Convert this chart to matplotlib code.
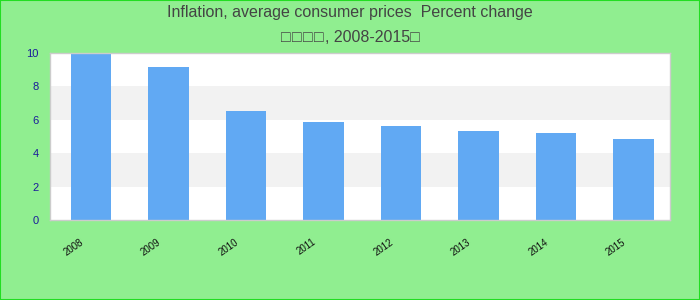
import matplotlib
matplotlib.use("Agg")
import matplotlib.pyplot as plt
import matplotlib.transforms as mtransforms
from matplotlib.patches import Rectangle

years = ["2008", "2009", "2010", "2011", "2012", "2013", "2014", "2015"]
inflation = [9.97, 9.16, 6.53, 5.87, 5.63, 5.33, 5.21, 4.85]
yticks = [0, 2, 4, 6, 8, 10]

plt.rcParams['font.family'] = ['Liberation Sans', 'DejaVu Sans']

fig = plt.figure(figsize=(7, 3), dpi=100, facecolor="#90ee90")
fig.patches.append(Rectangle((0, 0), 1, 1, transform=fig.transFigure,
                             fill=False, edgecolor="#22dd22", linewidth=1.5))
ax = fig.add_axes([50/700, 80/300, 620/700, 167/300])
ax.set_facecolor("white")

for i in range(0, 10, 2):
    if (i // 2) % 2 == 1:
        ax.axhspan(i, i + 2, color="#f2f2f2", zorder=0, linewidth=0)

x = list(range(len(years)))
ax.bar(x, inflation, width=0.52, color="#61a9f3", zorder=2)
ax.set_xlim(-0.53, len(years) - 0.53)
ax.set_ylim(0, 10)
ax.set_yticks(yticks)
ax.set_yticklabels([str(v) for v in yticks], color="#1a1a9a", fontsize=8)
ax.set_xticks(x)
ax.set_xticklabels(years, rotation=35, ha="right", fontsize=7, color="#111111")
ax.tick_params(axis="y", length=0, pad=8)
ax.tick_params(axis="x", length=0, pad=12)
shift = mtransforms.ScaledTranslation(-6/100, 0, fig.dpi_scale_trans)
for lbl in ax.get_xticklabels():
    lbl.set_transform(lbl.get_transform() + shift)
for s in ax.spines.values():
    s.set_color("#cccccc")
    s.set_linewidth(1)

fig.text(0.5, 1 - 12/300, "Inflation, average consumer prices  Percent change",
         ha="center", va="center", fontsize=11.5, color="#444444")
box = "\u25a1\u200a"
fig.text(0.5, 1 - 38/300, box * 4 + ", 2008-2015\u25a1",
         ha="center", va="center", fontsize=11.5, color="#444444")

fig.savefig("out.png", dpi=100, facecolor=fig.get_facecolor())
